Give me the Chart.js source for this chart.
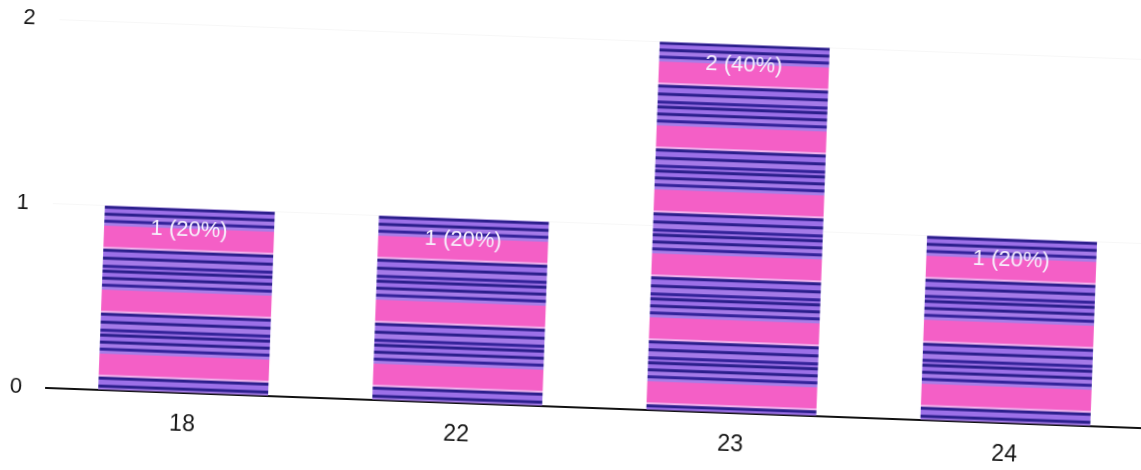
<!DOCTYPE html>
<html>
<head>
<meta charset="utf-8">
<script src="https://cdn.jsdelivr.net/npm/chart.js@4"></script>
<style>
  html, body { margin: 0; padding: 0; background: #fff; overflow: hidden; }
  /* the reference is a photo of a printout, slightly turned */
  #wrap { position: absolute; left: 0; top: -20px; transform: rotate(2.1deg); transform-origin: 0 0; }
</style>
</head>
<body>
<div id="wrap"><canvas id="ageChart" width="1180" height="500"></canvas></div>
<script>
const categories = ["18", "22", "23", "24"];
const counts = [1, 1, 2, 1];
const yTicks = [0, 1, 2];

const total = counts.reduce((a, b) => a + b, 0);

// printer-banded fill: navy/lavender lines with a pink band, repeating every 64px
function makeStripes() {
  const c = document.createElement("canvas");
  c.width = 8;
  c.height = 64;
  const g = c.getContext("2d");
  const bands = [
    [0, 3, "#2b1f8c"], [3, 7, "#9c70e8"], [7, 10, "#2b1f8c"], [10, 14, "#a57ae8"],
    [14, 17, "#33239a"], [17, 20, "#a77de8"], [20, 41, "#f45fc6"], [41, 43, "#f2b4ee"],
    [43, 46, "#2b1f8c"], [46, 51, "#9c70e8"], [51, 54, "#2b1f8c"], [54, 59, "#a57ae8"],
    [59, 62, "#33239a"], [62, 64, "#9a6fe4"]
  ];
  bands.forEach(([a, b, col]) => {
    g.fillStyle = col;
    g.fillRect(0, a, 8, b - a);
  });
  return c;
}
const stripeCanvas = makeStripes();

function barFill(ctx) {
  const chart = ctx.chart;
  const pat = chart.ctx.createPattern(stripeCanvas, "repeat");
  const y = chart.scales.y;
  if (y && ctx.raw !== undefined) {
    pat.setTransform(new DOMMatrix().translateSelf(0, y.getPixelForValue(ctx.raw)));
  }
  return pat;
}

const valueLabels = {
  id: "valueLabels",
  afterDatasetsDraw(chart) {
    const ctx = chart.ctx;
    const meta = chart.getDatasetMeta(0);
    ctx.save();
    ctx.font = "22px 'Liberation Sans', Arial, sans-serif";
    ctx.fillStyle = "#f6f0fc";
    ctx.textAlign = "center";
    ctx.textBaseline = "middle";
    meta.data.forEach((bar, i) => {
      const pct = Math.round(counts[i] / total * 100);
      ctx.fillText(counts[i] + " (" + pct + "%)", bar.x, bar.y + 21);
    });
    ctx.restore();
  }
};

new Chart(document.getElementById("ageChart").getContext("2d"), {
  type: "bar",
  data: {
    labels: categories,
    datasets: [{
      data: counts,
      backgroundColor: barFill,
      borderWidth: 0,
      barPercentage: 0.62,
      categoryPercentage: 1
    }]
  },
  options: {
    responsive: false,
    animation: false,
    layout: { padding: { top: 0, right: 22, left: 0, bottom: 0 } },
    plugins: { legend: { display: false }, tooltip: { enabled: false } },
    scales: {
      x: {
        grid: { display: false, drawTicks: false },
        border: { display: true, color: "#111", width: 2 },
        ticks: { color: "#151515", padding: 18, font: { family: "'Liberation Sans', Arial, sans-serif", size: 23 } },
        afterFit: (s) => { s.height = 94; }
      },
      y: {
        min: 0,
        max: 2,
        afterBuildTicks: (s) => { s.ticks = yTicks.map((v) => ({ value: v })); },
        grid: { color: "rgba(0,0,0,0.03)", drawTicks: false },
        border: { display: false },
        ticks: { color: "#151515", padding: 24, font: { family: "'Liberation Sans', Arial, sans-serif", size: 22 } },
        afterFit: (s) => { s.width = 61; }
      }
    }
  },
  plugins: [valueLabels]
});
</script>
</body>
</html>
